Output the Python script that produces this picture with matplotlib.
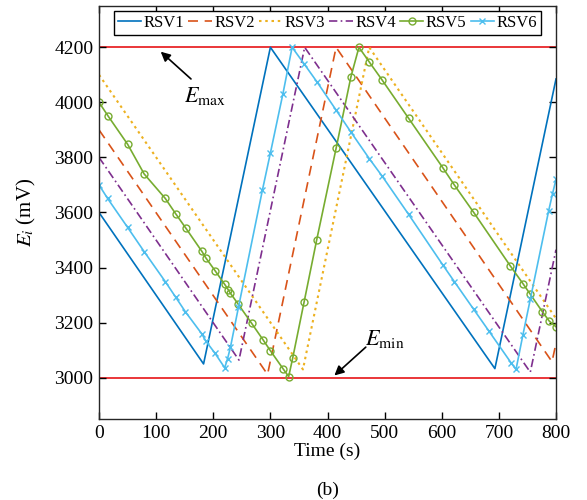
import matplotlib
matplotlib.use("Agg")
import matplotlib.pyplot as plt

plt.rcParams['font.family'] = ['Liberation Serif', 'DejaVu Serif']
plt.rcParams['mathtext.fontset'] = 'stix'

# ---------------- data ----------------
rsv1_t = [0, 183, 300, 693, 800]
rsv1_e = [3600, 3050, 4200, 3033, 4085]

rsv2_t = [0, 295, 415, 793, 800]
rsv2_e = [3900, 3012, 4200, 3058, 3125]

rsv3_t = [0, 357, 473, 800]
rsv3_e = [4100, 3030, 4200, 3215]

rsv4_t = [0, 245, 360, 755, 800]
rsv4_e = [3800, 3064, 4200, 3020, 3465]

rsv5_t = [0, 16, 50, 79, 116, 134, 152, 180, 187, 203, 220, 226, 230, 244, 267,
          287, 300, 322, 332, 339, 359, 381, 415, 441, 455, 473, 496, 542, 602,
          622, 656, 720, 743, 755, 776, 788, 800]
rsv5_e = [4000, 3950, 3848, 3740, 3651, 3596, 3543, 3459, 3435, 3389, 3339, 3320,
          3307, 3266, 3198, 3138, 3098, 3033, 3004, 3071, 3275, 3500, 3833, 4093,
          4200, 4147, 4080, 3942, 3762, 3700, 3600, 3406, 3339, 3303, 3240, 3206,
          3185]

rsv6_t = [0, 15, 50, 79, 116, 134, 151, 180, 187, 203, 220, 225, 230, 244, 286,
          300, 322, 338, 359, 382, 415, 441, 473, 496, 542, 602, 622, 656, 682,
          721, 730, 742, 755, 787, 794, 800]
rsv6_e = [3700, 3651, 3546, 3458, 3349, 3293, 3240, 3159, 3133, 3089, 3036, 3069,
          3110, 3255, 3681, 3816, 4032, 4200, 4140, 4073, 3972, 3892, 3796, 3731,
          3593, 3409, 3349, 3248, 3171, 3055, 3030, 3155, 3285, 3605, 3669, 3720]

e_max = 4200
e_min = 3000
x_ticks = [0, 100, 200, 300, 400, 500, 600, 700, 800]
y_ticks = [3000, 3200, 3400, 3600, 3800, 4000, 4200]

# ---------------- figure ----------------
fig = plt.figure(figsize=(5.87, 5.00), dpi=100)
ax = fig.add_axes([0.1687, 0.162, 0.7785, 0.826])

ax.axhline(e_max, color='#E8262A', lw=1.3, zorder=1)
ax.axhline(e_min, color='#E8262A', lw=1.3, zorder=1)

lw = 1.2
ax.plot(rsv1_t, rsv1_e, color='#0072BD', lw=lw, ls='-', label='RSV1')
ax.plot(rsv2_t, rsv2_e, color='#D95319', lw=lw, ls=(0, (6, 4)), label='RSV2')
ax.plot(rsv3_t, rsv3_e, color='#EDB120', lw=lw + 0.3, ls=(0, (1.2, 1.8)), label='RSV3')
ax.plot(rsv4_t, rsv4_e, color='#7E2F8E', lw=lw, ls=(0, (5, 2, 1, 2)), label='RSV4')
ax.plot(rsv5_t, rsv5_e, color='#77AC30', lw=lw, ls='-', marker='o', ms=5,
        mfc='none', mew=1.0, label='RSV5')
ax.plot(rsv6_t, rsv6_e, color='#4DBEEE', lw=lw, ls='-', marker='x', ms=4.5,
        mew=1.0, label='RSV6')

ax.set_xlim(0, 800)
ax.set_ylim(2850, 4350)
ax.set_xticks(x_ticks)
ax.set_yticks(y_ticks)
ax.tick_params(direction='in', top=True, right=True, length=5, width=1,
               labelsize=14, pad=4)
for s in ax.spines.values():
    s.set_linewidth(1.0)
    s.set_color('#262626')

ax.set_xlabel('Time (s)', fontsize=14, labelpad=1)
ax.set_ylabel('$E_i$ (mV)', fontsize=15, labelpad=12)

# annotations
ax.annotate('', xy=(108, 4184), xytext=(161, 4085),
            arrowprops=dict(arrowstyle='-|>', color='black', lw=1.2,
                            mutation_scale=14, shrinkA=0, shrinkB=0))
ax.text(186, 4022, '$E_{\\mathrm{max}}$', fontsize=16, ha='center', va='center')
ax.annotate('', xy=(412, 3008), xytext=(467, 3111),
            arrowprops=dict(arrowstyle='-|>', color='black', lw=1.2,
                            mutation_scale=14, shrinkA=0, shrinkB=0))
ax.text(500, 3140, '$E_{\\mathrm{min}}$', fontsize=16, ha='center', va='center')

leg = ax.legend(loc='upper center', ncol=6, fontsize=12, frameon=True,
                fancybox=False, edgecolor='black', framealpha=1,
                borderpad=0.25, handlelength=1.4, handletextpad=0.15,
                columnspacing=0.25, borderaxespad=0.3)
leg.get_frame().set_linewidth(1.0)

fig.text(0.5 * (0.1687 + 0.947), 0.02, '(b)', ha='center', va='center', fontsize=14)

fig.savefig('out.png', dpi=100)
